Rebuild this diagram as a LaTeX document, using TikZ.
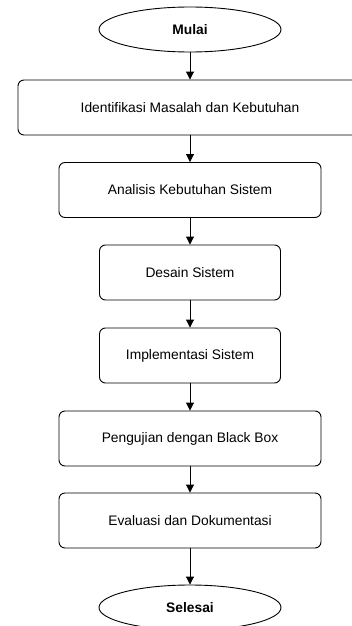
\documentclass[tikz,border=0pt]{standalone}
\usepackage{fontspec}
\setmainfont{Liberation Sans}
\usetikzlibrary{shapes.geometric, arrows.meta}

\tikzset{
    stepbox/.style={draw, rounded corners=6pt, line width=0.9pt, minimum height=55pt, inner sep=0pt},
    terminal/.style={draw, ellipse, line width=0.9pt, minimum width=182pt, minimum height=45pt, inner sep=0pt, font=\fontsize{13.8}{16}\selectfont\bfseries},
    flow/.style={-{Triangle[length=8pt,width=8pt]}, line width=0.9pt}
}

\begin{document}
\begin{tikzpicture}[x=1pt, y=-1pt, font=\fontsize{13.8}{16}\selectfont]
    \clip (0,0) rectangle (352,626);
    \fill[white] (0,0) rectangle (352,626);
    \node[terminal] (mulai) at (190,29.5) {Mulai};
    \node[stepbox, minimum width=344pt] (identifikasi) at (190,107.5) {Identifikasi Masalah dan Kebutuhan};
    \node[stepbox, minimum width=262pt] (analisis) at (190,190) {Analisis Kebutuhan Sistem};
    \node[stepbox, minimum width=181pt] (desain) at (190,272.5) {Desain Sistem};
    \node[stepbox, minimum width=181pt] (implementasi) at (190,355.5) {Implementasi Sistem};
    \node[stepbox, minimum width=262pt] (pengujian) at (190,438.5) {Pengujian dengan Black Box};
    \node[stepbox, minimum width=262pt] (evaluasi) at (190,520.5) {Evaluasi dan Dokumentasi};
    \node[terminal] (selesai) at (190,607.5) {Selesai};
    % Alur tahapan
    \draw[flow] (mulai) -- (identifikasi);
    \draw[flow] (identifikasi) -- (analisis);
    \draw[flow] (analisis) -- (desain);
    \draw[flow] (desain) -- (implementasi);
    \draw[flow] (implementasi) -- (pengujian);
    \draw[flow] (pengujian) -- (evaluasi);
    \draw[flow] (evaluasi) -- (selesai);
\end{tikzpicture}
\end{document}
